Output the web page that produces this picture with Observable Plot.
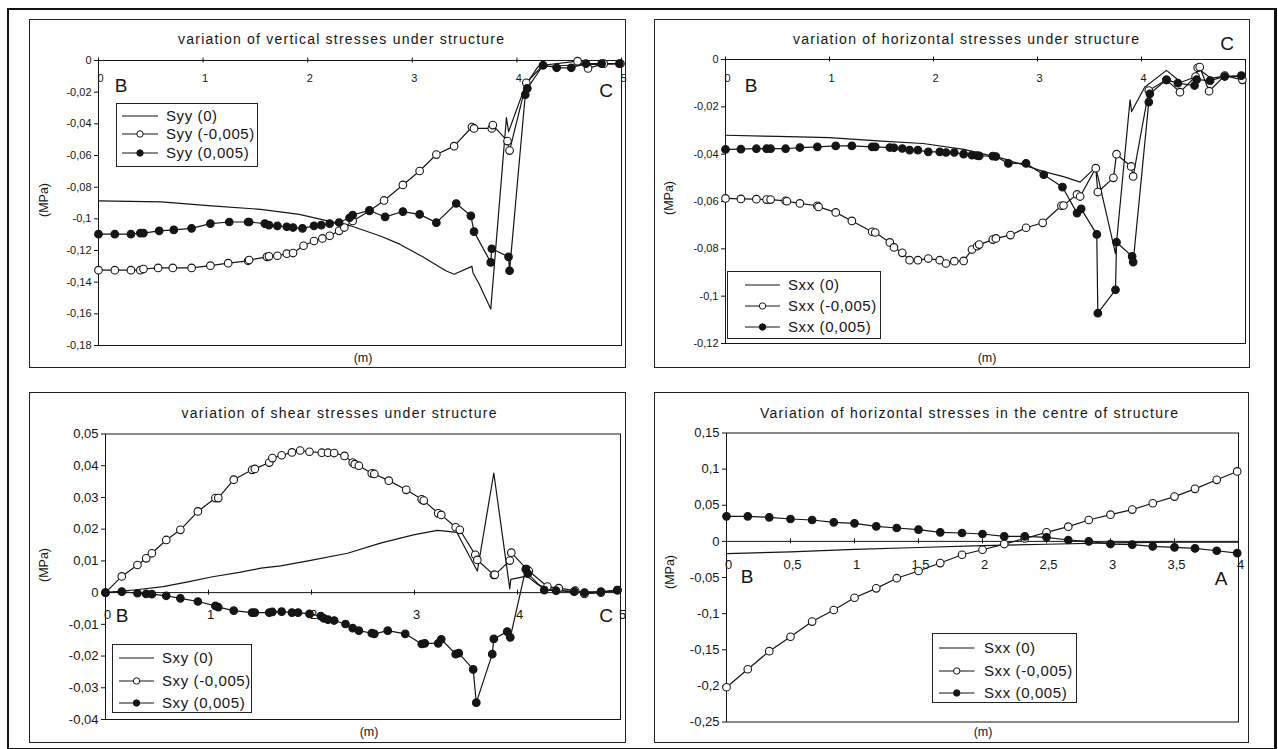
<!DOCTYPE html>
<html><head><meta charset="utf-8">
<script src="https://cdn.jsdelivr.net/npm/d3@7"></script>
<script src="https://cdn.jsdelivr.net/npm/@observablehq/plot@0.6"></script>
<style>
body{margin:0;background:#fff;}
#root{position:relative;width:1278px;height:749px;overflow:hidden;font-family:"Liberation Sans",Arial,sans-serif;color:#151515;background:#fff;}
.box{position:absolute;border:1px solid #222;box-sizing:border-box;}
.leg{position:absolute;border:1px solid #222;box-sizing:border-box;background:#fff;}
.row{position:absolute;left:0;height:0;}
.row svg{position:absolute;top:-6px;}
.row span{position:absolute;white-space:nowrap;line-height:1;transform:translateY(-52%);font-size:15px;letter-spacing:0.6px;}
</style></head><body><div id="root"></div><script>
// ---------- data: panel 1 (vertical stresses, x in m, y in MPa) ----------
const p1Zero = [[0,-0.0887],[0.6,-0.0893],[1.08,-0.0918],[1.55,-0.094],[1.92,-0.0972],[2.2,-0.1015],[2.41,-0.1044],[2.7,-0.111],[2.88,-0.116],[3.1,-0.124],[3.32,-0.1328],[3.4,-0.135],[3.57,-0.130],[3.58,-0.134],[3.64,-0.1413],[3.75,-0.157],[3.9,-0.036],[3.92,-0.045],[4.08,-0.016],[4.2,-0.004],[4.5,-0.003],[5,-0.002]];
const p1Neg = [[0,-0.1324],[0.156,-0.1324],[0.31,-0.1324],[0.40,-0.1324],[0.43,-0.1317],[0.57,-0.131],[0.71,-0.131],[0.89,-0.131],[1.07,-0.1296],[1.24,-0.128],[1.43,-0.1265],[1.44,-0.126],[1.61,-0.124],[1.63,-0.1237],[1.71,-0.1233],[1.80,-0.122],[1.86,-0.1216],[1.96,-0.117],[2.06,-0.114],[2.14,-0.1124],[2.21,-0.1107],[2.30,-0.1076],[2.35,-0.1055],[2.43,-0.1013],[2.59,-0.095],[2.73,-0.0884],[2.91,-0.0786],[3.07,-0.0698],[3.23,-0.0594],[3.40,-0.0541],[3.57,-0.042],[3.59,-0.0429],[3.76,-0.0429],[3.77,-0.0408],[3.91,-0.0509],[3.93,-0.0569],[4.09,-0.0141],[4.25,-0.003],[4.58,-0.0004],[4.68,-0.005],[4.83,-0.002],[4.99,-0.002]];
const p1Pos = [[0,-0.1097],[0.156,-0.1097],[0.31,-0.1097],[0.40,-0.109],[0.43,-0.109],[0.58,-0.1076],[0.72,-0.107],[0.89,-0.106],[1.07,-0.103],[1.25,-0.102],[1.43,-0.102],[1.44,-0.102],[1.59,-0.103],[1.63,-0.104],[1.71,-0.1044],[1.80,-0.105],[1.86,-0.1055],[1.95,-0.106],[2.06,-0.1044],[2.13,-0.104],[2.21,-0.103],[2.30,-0.1023],[2.40,-0.0993],[2.43,-0.0976],[2.59,-0.0947],[2.74,-0.0988],[2.91,-0.0954],[3.07,-0.0972],[3.23,-0.1024],[3.42,-0.0903],[3.56,-0.0981],[3.59,-0.1081],[3.75,-0.1275],[3.76,-0.1189],[3.92,-0.124],[3.93,-0.1328],[4.08,-0.0216],[4.10,-0.0176],[4.25,-0.003],[4.38,-0.0046],[4.52,-0.0046],[4.66,-0.002],[4.81,-0.002],[4.98,-0.002]];
const p1Labels = ["Syy (0)", "Syy (-0,005)", "Syy (0,005)"];
const p1YTicks = [0,-0.02,-0.04,-0.06,-0.08,-0.1,-0.12,-0.14,-0.16,-0.18];
const p1XTicks = [0,1,2,3,4,5];

// ---------- data: panel 2 (horizontal stresses under structure) ----------
const p2Zero = [[0,-0.032],[0.5,-0.0325],[1.0,-0.033],[1.5,-0.0345],[1.9,-0.0355],[2.29,-0.038],[2.68,-0.042],[3.07,-0.0475],[3.25,-0.0495],[3.41,-0.0518],[3.56,-0.0455],[3.75,-0.082],[3.89,-0.017],[3.905,-0.022],[4.03,-0.0117],[4.24,-0.0046],[4.38,-0.0096],[4.51,-0.0075],[4.55,-0.004],[4.67,-0.008],[4.8,-0.007],[4.98,-0.0072]];
const p2Neg = [[0,-0.0587],[0.148,-0.0589],[0.297,-0.059],[0.395,-0.0592],[0.434,-0.0592],[0.578,-0.0597],[0.59,-0.0599],[0.715,-0.0608],[0.883,-0.0618],[0.895,-0.0623],[1.06,-0.0646],[1.215,-0.0682],[1.41,-0.0728],[1.44,-0.0731],[1.58,-0.0773],[1.62,-0.0794],[1.70,-0.0817],[1.77,-0.0848],[1.85,-0.0848],[1.95,-0.0841],[2.06,-0.0848],[2.12,-0.0862],[2.20,-0.0852],[2.29,-0.0851],[2.37,-0.0803],[2.42,-0.0789],[2.44,-0.0782],[2.57,-0.0761],[2.60,-0.0756],[2.74,-0.0742],[2.89,-0.0711],[3.05,-0.069],[3.23,-0.0618],[3.25,-0.0617],[3.38,-0.057],[3.41,-0.0579],[3.56,-0.0459],[3.58,-0.056],[3.73,-0.050],[3.76,-0.040],[3.90,-0.0452],[3.92,-0.0494],[4.07,-0.0131],[4.24,-0.0086],[4.37,-0.0138],[4.52,-0.0072],[4.54,-0.0035],[4.56,-0.0032],[4.65,-0.0134],[4.80,-0.0068],[4.97,-0.0086]];
const p2Pos = [[0,-0.038],[0.148,-0.0379],[0.297,-0.0377],[0.395,-0.0377],[0.434,-0.0377],[0.578,-0.0377],[0.715,-0.0372],[0.883,-0.0369],[1.06,-0.0365],[1.215,-0.0365],[1.41,-0.0369],[1.44,-0.0369],[1.58,-0.0372],[1.62,-0.0373],[1.70,-0.0376],[1.77,-0.0383],[1.85,-0.0383],[1.95,-0.039],[2.06,-0.039],[2.12,-0.0393],[2.20,-0.0393],[2.29,-0.040],[2.37,-0.0404],[2.42,-0.0406],[2.44,-0.0407],[2.57,-0.0408],[2.60,-0.041],[2.72,-0.0439],[2.89,-0.0439],[3.06,-0.0487],[3.24,-0.0539],[3.38,-0.0649],[3.42,-0.0631],[3.57,-0.0739],[3.58,-0.1072],[3.75,-0.0973],[3.76,-0.0772],[3.91,-0.0832],[3.92,-0.0856],[4.07,-0.018],[4.08,-0.0145],[4.24,-0.0086],[4.35,-0.01],[4.51,-0.011],[4.53,-0.0085],[4.66,-0.0089],[4.80,-0.0072],[4.96,-0.0068]];
const p2Labels = ["Sxx (0)", "Sxx (-0,005)", "Sxx (0,005)"];
const p2YTicks = [0,-0.02,-0.04,-0.06,-0.08,-0.1,-0.12];
const p2XTicks = [0,1,2,3,4];

// ---------- data: panel 3 (shear stresses) ----------
const p3Zero = [[0,0],[0.3,0.0009],[0.56,0.0019],[0.8,0.0034],[1.04,0.005],[1.3,0.0064],[1.51,0.0077],[1.70,0.0084],[1.98,0.0101],[2.35,0.0124],[2.67,0.0156],[2.99,0.0182],[3.22,0.0196],[3.3,0.0194],[3.41,0.0190],[3.61,0.0068],[3.77,0.0377],[3.925,0.0012],[3.935,0.0042],[4.09,0.0052],[4.2,0.0025],[4.3,0.0012],[4.5,0.0004],[4.8,0.0002],[5,0.0006]];
const p3Neg = [[0,0],[0.158,0.0051],[0.31,0.0087],[0.395,0.0108],[0.45,0.0124],[0.59,0.0166],[0.727,0.0198],[0.897,0.0256],[1.067,0.0298],[1.095,0.0298],[1.245,0.0356],[1.423,0.0387],[1.45,0.039],[1.59,0.041],[1.62,0.0424],[1.71,0.0433],[1.81,0.0442],[1.89,0.0448],[1.98,0.0444],[2.10,0.0441],[2.16,0.0441],[2.22,0.0440],[2.32,0.0431],[2.40,0.041],[2.42,0.0405],[2.46,0.040],[2.585,0.0376],[2.61,0.0374],[2.75,0.0353],[2.92,0.0324],[3.07,0.0294],[3.09,0.0290],[3.23,0.025],[3.26,0.0245],[3.40,0.0206],[3.44,0.0198],[3.59,0.0119],[3.61,0.0103],[3.77,0.0056],[3.78,0.0056],[3.925,0.0101],[3.94,0.0126],[4.09,0.0074],[4.11,0.0068],[4.29,0.0019],[4.40,0.0014],[4.56,0.0006],[4.65,-0.0004],[4.81,0],[4.97,0.0008]];
const p3Pos = [[0,0],[0.158,0.0003],[0.31,-0.0002],[0.395,-0.0004],[0.45,-0.0005],[0.59,-0.001],[0.727,-0.0018],[0.897,-0.0028],[1.067,-0.0042],[1.095,-0.0046],[1.245,-0.0057],[1.423,-0.0063],[1.45,-0.0063],[1.59,-0.0063],[1.62,-0.0061],[1.71,-0.006],[1.81,-0.0063],[1.87,-0.0063],[1.98,-0.0067],[2.09,-0.0074],[2.12,-0.0081],[2.16,-0.0085],[2.22,-0.0088],[2.33,-0.0099],[2.40,-0.0112],[2.46,-0.012],[2.585,-0.0128],[2.61,-0.013],[2.74,-0.012],[2.91,-0.013],[3.07,-0.0162],[3.10,-0.016],[3.23,-0.016],[3.26,-0.0147],[3.40,-0.0194],[3.43,-0.0191],[3.57,-0.0242],[3.60,-0.0347],[3.755,-0.0194],[3.77,-0.0146],[3.90,-0.0123],[3.93,-0.0141],[4.08,0.0074],[4.10,0.006],[4.26,0.0008],[4.375,0.0006],[4.55,0.0003],[4.65,0],[4.81,0.0003],[4.97,0.0008]];
const p3Labels = ["Sxy (0)", "Sxy (-0,005)", "Sxy (0,005)"];
const p3YTicks = [0.05,0.04,0.03,0.02,0.01,0,-0.01,-0.02,-0.03,-0.04];
const p3XTicks = [0,1,2,3,4,5];

// ---------- data: panel 4 (horizontal stresses in the centre) ----------
const p4X = [0,0.166,0.334,0.5,0.669,0.838,1.0,1.17,1.33,1.5,1.67,1.84,2.0,2.17,2.33,2.5,2.67,2.83,3.0,3.17,3.33,3.5,3.66,3.83,3.99];
const p4Neg = [-0.2019,-0.177,-0.152,-0.132,-0.111,-0.095,-0.078,-0.065,-0.051,-0.041,-0.030,-0.0185,-0.0116,-0.0037,0.004,0.0125,0.0204,0.0296,0.037,0.044,0.0528,0.062,0.0727,0.0852,0.0968];
const p4Pos = [0.0347,0.0347,0.0333,0.031,0.0296,0.0264,0.025,0.0208,0.0185,0.0162,0.0125,0.0116,0.0102,0.0069,0.0069,0.0056,0.0019,0,-0.0037,-0.0046,-0.0069,-0.0083,-0.0097,-0.013,-0.0162];
const p4ZeroX = [0,0.5,1,1.5,2,2.5,3,3.5,4];
const p4ZeroY = [-0.017,-0.0145,-0.011,-0.0085,-0.006,-0.004,-0.002,-0.001,-0.001];
const p4Labels = ["Sxx (0)", "Sxx (-0,005)", "Sxx (0,005)"];
const p4YTicks = [0.15,0.1,0.05,0,-0.05,-0.1,-0.15,-0.2,-0.25];
const p4XTicks = [0,0.5,1,1.5,2,2.5,3,3.5,4];

const titles = ["variation of vertical stresses under structure","variation of horizontal stresses under structure","variation of shear stresses under structure","Variation of horizontal stresses in the centre of structure"];

// ---------- drawing ----------
const ink = "#151515";
const root = document.getElementById("root");
const fmt = d => Math.abs(d) < 1e-9 ? "0" : String(+d.toFixed(4)).replace(".", ",");
const zip = (xs, ys) => xs.map((x, i) => [x, ys[i]]);

function div(cls, l, t, w, h, extra) {
  const e = document.createElement("div");
  e.className = cls;
  Object.assign(e.style, {left: l + "px", top: t + "px", width: w + "px", height: h + "px"}, extra || {});
  root.appendChild(e);
  return e;
}

// outer frame
div("box", 7, 8, 1270, 742, {borderWidth: "2px 3px 2px 2px", borderColor: "#111"});

const panels = [
  {box: [29, 19, 597, 349], m: {l: 69, r: 5, t: 41, b: 23}, xd: [0, 5], yd: [-0.18, 0], xt: p1XTicks, yt: p1YTicks, xdy: 18, font: 11,
   series: [{d: p1Zero}, {d: p1Neg, mk: "open"}, {d: p1Pos, mk: "fill"}]},
  {box: [654, 19, 596, 349], m: {l: 71, r: 5, t: 40, b: 25}, xd: [0, 5], yd: [-0.12, 0], xt: p2XTicks, yt: p2YTicks, xdy: 19, font: 11,
   series: [{d: p2Zero}, {d: p2Neg, mk: "open"}, {d: p2Pos, mk: "fill"}]},
  {box: [29, 392, 597, 351], m: {l: 76, r: 6, t: 41.5, b: 24}, xd: [0, 5], yd: [-0.04, 0.05], xt: p3XTicks, yt: p3YTicks, xdy: 22, font: 13,
   series: [{d: p3Zero}, {d: p3Neg, mk: "open"}, {d: p3Pos, mk: "fill"}]},
  {box: [654, 392, 595, 351], m: {l: 72, r: 11, t: 40.5, b: 21.5}, xd: [0, 4], yd: [-0.25, 0.15], xt: p4XTicks, yt: p4YTicks, xdy: 23.5, font: 13,
   series: [{d: zip(p4ZeroX, p4ZeroY)}, {d: zip(p4X, p4Neg), mk: "open"}, {d: zip(p4X, p4Pos), mk: "fill"}]}
];

for (const p of panels) {
  const [bx, by, bw, bh] = p.box;
  div("box", bx, by, bw, bh);
  const plotH = bh - p.m.t - p.m.b;
  const tk = 2.5 * (p.yd[1] - p.yd[0]) / plotH;
  const marks = [
    Plot.frame({stroke: ink, strokeWidth: 1}),
    Plot.ruleY([0], {stroke: ink, strokeWidth: 1}),
    Plot.ruleX(p.xt, {x: d => d, y1: -tk, y2: tk, stroke: ink, strokeWidth: 1}),
    Plot.text(p.xt, {x: d => d, y: 0, text: fmt, dy: p.xdy, dx: 2, fontSize: p.font, fill: ink})
  ];
  for (const s of p.series) {
    marks.push(Plot.line(s.d, {x: d => d[0], y: d => d[1], stroke: ink, strokeWidth: 1.2}));
  }
  for (const s of p.series) {
    if (s.mk) marks.push(Plot.dot(s.d, {x: d => d[0], y: d => d[1], r: 3.8, fill: s.mk === "open" ? "#fff" : ink, stroke: ink, strokeWidth: 1.1}));
  }
  const svg = Plot.plot({
    width: bw, height: bh,
    marginLeft: p.m.l, marginRight: p.m.r, marginTop: p.m.t, marginBottom: p.m.b,
    x: {domain: p.xd, axis: null},
    y: {domain: p.yd, ticks: p.yt, tickFormat: fmt, tickSize: 4, tickPadding: 3, label: null},
    style: {fontFamily: "Liberation Sans, Arial, sans-serif", fontSize: p.font + "px", color: ink, background: "transparent", overflow: "visible"},
    marks
  });
  Object.assign(svg.style, {position: "absolute", left: bx + "px", top: by + "px"});
  root.appendChild(svg);
}

// ---------- annotations (titles, axis names, point letters) ----------
const ov = d3.select(root).append("svg").attr("width", 1278).attr("height", 749)
  .style("position", "absolute").style("left", 0).style("top", 0)
  .style("font-family", "Liberation Sans, Arial, sans-serif").attr("fill", ink);
const titlePos = [[341, 44, 326], [966, 44, 346], [339, 418, 315], [969, 418, 418]];
titles.forEach((t, i) => {
  const [cx, by, w] = titlePos[i];
  ov.append("text").attr("x", cx).attr("y", by).attr("text-anchor", "middle").attr("font-size", 14)
    .attr("textLength", w).attr("lengthAdjust", "spacing").text(t);
});
const letters = [["B", 121, 85], ["C", 606, 90], ["B", 751, 85], ["C", 1227, 43], ["B", 122, 615], ["C", 606, 615], ["B", 747, 576], ["A", 1221, 578]];
for (const [t, x, y] of letters) {
  ov.append("text").attr("x", x).attr("y", y + 7).attr("text-anchor", "middle").attr("font-size", 19).text(t);
}
const mpa = [[44, 200], [669, 198], [44, 565], [670, 572]];
for (const [x, y] of mpa) {
  ov.append("text").attr("transform", `translate(${x},${y}) rotate(-90)`).attr("text-anchor", "middle")
    .attr("dy", "0.35em").attr("font-size", 12.5).text("(MPa)");
}
const mLab = [[363, 358], [987, 358], [369, 732], [983, 732]];
for (const [x, y] of mLab) {
  ov.append("text").attr("x", x).attr("y", y).attr("dy", "0.35em").attr("text-anchor", "middle").attr("font-size", 12.5).text("(m)");
}

// ---------- legends ----------
const legends = [
  {labels: p1Labels, box: [116, 103, 142, 64], rows: [12, 30, 49], s: [5, 41], tx: 49},
  {labels: p2Labels, box: [727, 271, 154, 68], rows: [13, 34, 55], s: [17, 52], tx: 60},
  {labels: p3Labels, box: [112, 644, 140, 69], rows: [13, 36, 58], s: [6, 41], tx: 49},
  {labels: p4Labels, box: [932, 633, 145, 70], rows: [14, 37, 59], s: [6, 41.5], tx: 51}
];
const kinds = [null, "open", "fill"];
for (const L of legends) {
  const [l, t, w, h] = L.box;
  const lg = div("leg", l, t, w, h);
  L.labels.forEach((lab, i) => {
    const row = document.createElement("div");
    row.className = "row";
    row.style.top = L.rows[i] + "px";
    row.style.width = w + "px";
    const sv = d3.create("svg").attr("width", L.s[1] + 4).attr("height", 12);
    sv.append("line").attr("x1", L.s[0]).attr("x2", L.s[1]).attr("y1", 6).attr("y2", 6).attr("stroke", ink).attr("stroke-width", 1.2);
    if (kinds[i]) sv.append("circle").attr("cx", (L.s[0] + L.s[1]) / 2).attr("cy", 6).attr("r", 3.2)
      .attr("fill", kinds[i] === "open" ? "#fff" : ink).attr("stroke", ink);
    row.appendChild(sv.node());
    const sp = document.createElement("span");
    sp.style.left = L.tx + "px";
    sp.textContent = lab;
    row.appendChild(sp);
    lg.appendChild(row);
  });
}
</script></body></html>
